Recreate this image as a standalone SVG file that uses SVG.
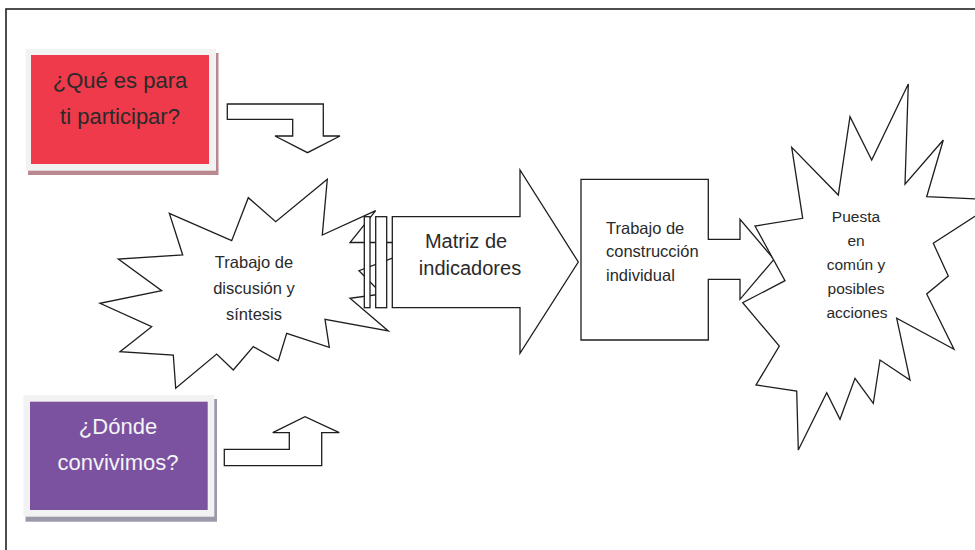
<svg xmlns="http://www.w3.org/2000/svg" width="975" height="550" viewBox="0 0 975 550">
  <style>
    .line { fill: #ffffff; stroke: #1e1e1e; stroke-width: 1.3; stroke-linejoin: miter; }
    .txt { font-family: "Liberation Sans", Arial, sans-serif; fill: #2a2a2a; }
    .mid { text-anchor: middle; }
    .q { font-size: 22px; }
    .s { font-size: 16.5px; }
    .m { font-size: 20px; }
    .p { font-size: 15.5px; }
  </style>

  <rect x="0" y="0" width="975" height="550" fill="#ffffff"/>
  <!-- page frame (right and bottom edges fall outside the canvas) -->
  <rect x="6" y="9" width="990" height="560" fill="none" stroke="#222222" stroke-width="1.6"/>

  <!-- bent block arrows from the two questions -->
  <g id="connectors">
    <path class="line" d="M227.3,104 L323.3,104 L323.3,136 L340,136 L307.5,152.7 L275,136 L292.7,136 L292.7,119.3 L227.3,119.3 Z"/>
    <path class="line" d="M224.3,465.7 L224.3,449.3 L289.3,449.3 L289.3,432.7 L272.7,432.7 L305,416.7 L339.3,432.7 L321.7,432.7 L321.7,465.7 Z"/>
  </g>

  <g id="question-participar">
    <rect x="28" y="53" width="190.5" height="122" fill="#b8878f"/>
    <rect x="25.7" y="49" width="190.3" height="121.7" fill="#f2f2f2"/>
    <rect x="31" y="55" width="178" height="109" fill="#ee3a4b"/>
    <text class="txt q mid" x="120" y="88">¿Qué es para</text>
    <text class="txt q mid" x="120" y="124">ti participar?</text>
  </g>

  <g id="question-convivimos">
    <rect x="25.5" y="399" width="191.5" height="122.7" fill="#9c97aa"/>
    <rect x="23.3" y="395" width="191" height="121.7" fill="#f2f2f2"/>
    <rect x="30" y="401.7" width="177.7" height="108.3" fill="#7b52a0"/>
    <text class="txt q mid" x="118" y="434" fill="#f4f4f4" style="fill:#f4f4f4">¿Dónde</text>
    <text class="txt q mid" x="118" y="470" style="fill:#f4f4f4">convivimos?</text>
  </g>

  <g id="discusion">
    <polygon class="line" points="169.3,213.3 231.7,240.7 248.3,197.7 275.7,221.7 327.3,179.3 322.3,235 375.7,210.7 350,242.5 434,242.5 359,270.7 382,294 350,298.3 388.3,331 325,319.3 329.3,347.3 286.7,333.3 278.3,360.7 253.3,346.7 233.3,370 216.7,354 175.7,388.3 173.3,355 120,351.7 151.7,326.7 100,303.3 161.7,290.7 118.3,259 182.7,255"/>
    <text class="txt s mid" x="254" y="268">Trabajo de</text>
    <text class="txt s mid" x="254" y="294">discusión y</text>
    <text class="txt s mid" x="254" y="320">síntesis</text>
  </g>

  <g id="matriz">
    <rect class="line" x="364.3" y="216.7" width="5.7" height="91"/>
    <rect class="line" x="375.7" y="216.7" width="11" height="91"/>
    <path class="line" d="M392.3,216.7 L520,216.7 L520,170 L578.3,262 L520,353.3 L520,307.7 L392.3,307.7 Z"/>
    <text class="txt m mid" x="466" y="248">Matriz de</text>
    <text class="txt m mid" x="470" y="275">indicadores</text>
  </g>

  <g id="individual">
    <path class="line" d="M581,179.3 L708.3,179.3 L708.3,239.3 L740,239.3 L740,219.3 L774,259.3 L740,299.3 L740,279.3 L708.3,279.3 L708.3,340 L581,340 Z"/>
    <text class="txt s" x="606" y="234">Trabajo de</text>
    <text class="txt s" x="606" y="257">construcción</text>
    <text class="txt s" x="606" y="281">individual</text>
  </g>

  <g id="puesta-en-comun">
    <polygon class="line" points="908.3,84 905,184.3 943.3,140 926.7,196.7 1000,200 933.3,243.3 948.3,276 926.7,294 954,349.3 896.7,318.3 910,380 880,360 873.3,403.3 855,378.3 840,419.3 826.7,392.7 798.3,450 796.7,391 756,385 779.3,346 742.7,302.7 785,280.7 755,226 802.7,218.3 791.7,147.3 838.3,195 850,116.7 871.7,160"/>
    <text class="txt p mid" x="856" y="222">Puesta</text>
    <text class="txt p mid" x="856" y="246">en</text>
    <text class="txt p mid" x="856" y="270">común y</text>
    <text class="txt p mid" x="856" y="294">posibles</text>
    <text class="txt p mid" x="857" y="318">acciones</text>
  </g>
</svg>
